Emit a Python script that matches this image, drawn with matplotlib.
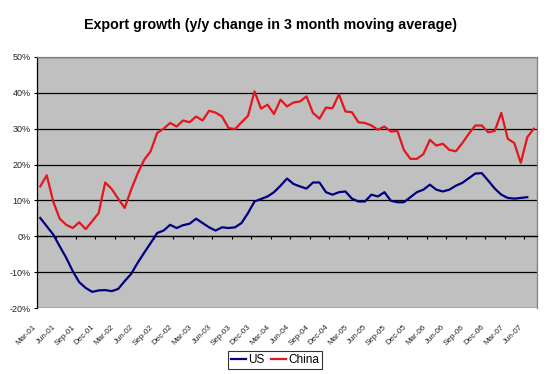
import matplotlib
matplotlib.use("Agg")
import matplotlib.pyplot as plt
from matplotlib.ticker import MultipleLocator, FixedLocator, FuncFormatter
from matplotlib.transforms import ScaledTranslation

plt.rcParams['font.family'] = ['Liberation Sans', 'DejaVu Sans']

tick_labels = ["Mar-01", "Jun-01", "Sep-01", "Dec-01", "Mar-02", "Jun-02", "Sep-02",
               "Dec-02", "Mar-03", "Jun-03", "Sep-03", "Dec-03", "Mar-04", "Jun-04",
               "Sep-04", "Dec-04", "Mar-05", "Jun-05", "Sep-05", "Dec-05", "Mar-06",
               "Jun-06", "Sep-06", "Dec-06", "Mar-07", "Jun-07"]

us = [5.1, 2.8, 0.5, -2.8, -6.0, -9.7, -12.8, -14.4, -15.5, -15.1,
      -15.0, -15.3, -14.7, -12.5, -10.5, -7.4, -4.6, -1.9, 0.9, 1.6,
      3.2, 2.3, 3.1, 3.5, 4.9, 3.7, 2.5, 1.6, 2.5, 2.3,
      2.5, 3.7, 6.5, 9.7, 10.4, 11.1, 12.3, 14.1, 16.1, 14.6,
      13.9, 13.3, 15.0, 15.0, 12.3, 11.6, 12.3, 12.5, 10.5, 9.7,
      9.7, 11.6, 11.1, 12.3, 9.9, 9.5, 9.5, 10.9, 12.3, 13.0,
      14.4, 13.0, 12.5, 13.0, 14.1, 14.9, 16.2, 17.5, 17.6, 15.5,
      13.3, 11.6, 10.7, 10.5, 10.7, 10.9]

china = [13.9, 17.0, 9.7, 4.9, 3.2, 2.3, 3.9, 2.0, 4.2, 6.5,
         15.0, 13.2, 10.5, 7.9, 13.0, 17.5, 21.3, 23.7, 28.8, 30.0,
         31.6, 30.6, 32.3, 31.8, 33.4, 32.3, 35.0, 34.5, 33.4, 30.2,
         29.9, 31.8, 33.6, 40.4, 35.6, 36.7, 34.1, 38.1, 36.2, 37.3,
         37.6, 39.0, 34.4, 32.8, 35.9, 35.7, 39.6, 34.8, 34.6, 31.8,
         31.6, 30.9, 29.7, 30.6, 29.2, 29.4, 24.1, 21.6, 21.6, 22.9,
         26.9, 25.3, 25.8, 24.1, 23.7, 26.0, 28.6, 30.9, 30.9, 29.0,
         29.4, 34.4, 27.2, 26.0, 20.5, 27.6, 30.0]

n_months = len(china)

fig = plt.figure(figsize=(5.47, 3.74), dpi=100)
ax = fig.add_axes([37/547, 1-308/374, 500/547, 251/374])
ax.set_facecolor('#C0C0C0')

ax.plot(range(len(us)), us, color='#000080', lw=1.6, label='US', zorder=3)
ax.plot(range(len(china)), china, color='#E3161E', lw=1.6, label='China', zorder=3)

ax.set_xlim(-0.5, n_months - 0.5)
ax.set_ylim(-20, 50)

# y axis
ax.yaxis.set_major_locator(MultipleLocator(10))
ax.yaxis.set_major_formatter(FuncFormatter(lambda v, p: f"{v:.0f}%"))
ax.tick_params(axis='y', direction='out', length=2.5, width=0.8, labelsize=6.5,
               labelcolor='#222222', pad=2)
ax.yaxis.grid(True, color='black', lw=0.9)
ax.set_axisbelow(True)

# category axis crossing at 0
ax.spines['bottom'].set_position(('data', 0))
ax.spines['bottom'].set_linewidth(0.9)
ax.xaxis.set_major_locator(FixedLocator([]))
ax.xaxis.set_minor_locator(FixedLocator([3*k - 0.5 for k in range(1, 26)]))
ax.tick_params(axis='x', which='minor', direction='out', length=2.2, width=0.8)
ax.spines['left'].set_linewidth(0.9)
for s in ('top', 'right'):
    ax.spines[s].set_color('#808080')
    ax.spines[s].set_linewidth(0.9)

# tick labels at the bottom of the plot area
sec = ax.secondary_xaxis(0)
sec.spines['bottom'].set_visible(False)
sec.set_xticks(list(range(0, 3*len(tick_labels), 3)))
sec.set_xticklabels(tick_labels, rotation=45, ha='right', va='center',
                    rotation_mode='anchor', fontsize=5.8, color='#222222')
sec.tick_params(axis='x', length=0, pad=13)
off = ScaledTranslation(-5/100, 0, fig.dpi_scale_trans)
for lab in sec.get_xticklabels():
    lab.set_transform(lab.get_transform() + off)

fig.text(0.495, 1-25/374, "Export growth (y/y change in 3 month moving average)",
         ha='center', va='center', fontsize=10.3, fontweight='bold')

leg = fig.legend(loc='center', bbox_to_anchor=(275/547, 1-360/374), ncol=2,
                 fontsize=8.5, frameon=True, fancybox=False, edgecolor='black',
                 handlelength=1.3, handletextpad=0.2, columnspacing=0.5,
                 borderpad=0.25, borderaxespad=0)
leg.get_frame().set_linewidth(0.8)

fig.savefig("out.png", dpi=100, facecolor='white')
